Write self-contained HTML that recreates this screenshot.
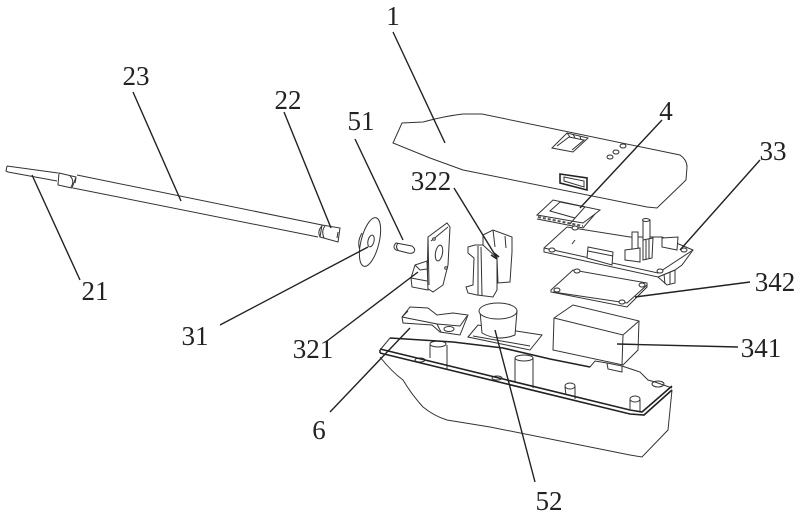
<!DOCTYPE html>
<html><head><meta charset="utf-8"><style>
html,body{margin:0;padding:0;background:#fff}
svg{display:block}
.d{filter:blur(.35px)}
.p path,.p ellipse,.p polyline,.p polygon,.p line{fill:#fff;stroke:#333;stroke-width:1}
.p path.o{fill:none}
.p .b{stroke-width:1.6;stroke:#222}
.l line{stroke:#222;stroke-width:1.4}
text{font-family:"Liberation Serif",serif;font-size:27px;fill:#222;text-anchor:middle}
</style></head><body>
<svg width="800" height="518" viewBox="0 0 800 518" xmlns="http://www.w3.org/2000/svg">
<g class="d">
<g class="p">
<!-- shaft -->
<path class="o" d="M7,166 L58,173 M8,172 L57,181 M7,166 L6,171 L8,172"/>
<path d="M59,173 L76,177 L72,188 L58,185 Z"/>
<path class="o" d="M70,176 Q75,181 71,187 M76,178 L75,183"/>
<path class="o" d="M77,175 L322,225 M73,188 L318,237"/>
<path d="M322,225 L340,228 L338,242 L320,237 Z"/>
<path class="o" d="M322,226 Q317,231 320,237 M325,226 Q321,231 324,238 M338,232 L337,238"/>
<!-- disc -->
<path class="o" d="M362,233 Q356,243 361,252 L364,246"/>
<ellipse cx="370" cy="242" rx="9" ry="25" transform="rotate(14 370 242)"/>
<ellipse cx="371" cy="241" rx="3" ry="6" transform="rotate(14 371 241)"/>
<!-- pin -->
<path d="M396,243 L412,246 Q416,249 414,252 Q412,254 408,253 L396,250 Q392,247 396,243 Z"/>
<path class="o" d="M398,243 Q395,247 398,250"/>
<!-- cover 1 -->
<path d="M393,143 L402,123 L423,122 Q445,116 463,114 L482,114 L680,155 Q687,160 687,167 L686,180 L657,208 L647,207 L463,170 L430,158 Z"/>
<path d="M552,148 L567,133 L588,138 L573,152 Z"/>
<path class="o" d="M557,146 L569,137 L584,140 L572,150 M567,133 L570,137 M573,134 L575,138 M580,136 L581,140"/>
<path class="b" d="M560,174 L587,178 L587,190 L560,183 Z"/>
<path class="o" d="M564,177 L584,181 L584,187 L564,181 Z"/>
<ellipse cx="623" cy="146" rx="3" ry="2"/><ellipse cx="616" cy="152" rx="3" ry="2"/><ellipse cx="610" cy="157" rx="3" ry="2"/>
<!-- part 4 -->
<path d="M537,215 L553,200 L600,210 L595,214 L583,223 Z"/>
<path class="o" d="M537,219 L583,228 L595,214"/>
<path class="o" style="stroke:#555;stroke-width:2;stroke-dasharray:3 2" d="M538,217 L583,226"/>
<path class="o" d="M550,211 L560,202 L585,207 L575,218 Z M575,218 L570,224"/>
<!-- pcb 33 -->
<path d="M675,270 L675,283 L667,285 L658,277 Z"/>
<path class="o" d="M670,272 L670,284 M664,274 L665,284"/>
<path d="M544,248 L567,227 L630,237 L662,237 L693,250 L682,265 L675,270 L658,277 L544,252 Z"/>
<path class="o" d="M544,248 L658,273 L693,250"/>
<path d="M588,247 L613,252 L612,265 L587,258 Z"/>
<path class="o" d="M588,251 L613,256"/>
<path d="M632,232 L638,232 L638,250 L632,250 Z"/>
<path d="M643,220 L650,220 L650,240 L643,240 Z"/>
<ellipse cx="646" cy="220" rx="3.5" ry="1.5"/>
<path d="M625,250 L640,248 L640,262 L625,260 Z"/>
<path d="M643,240 L653,238 L652,258 L643,260 Z"/>
<path class="o" d="M646,240 L646,260 M649,239 L649,259"/>
<path d="M662,238 L678,237 L677,250 L662,247 Z"/>
<path class="o" d="M572,244 L575,240"/>
<ellipse cx="552" cy="250" rx="3" ry="2"/><ellipse cx="684" cy="250" rx="3" ry="2"/><ellipse cx="660" cy="271" rx="3" ry="2"/><ellipse cx="575" cy="228" rx="3" ry="2"/>
<!-- plate 342 -->
<path d="M551,290 L573,270 L647,283 L647,287 L627,307 L551,292 Z"/>
<path class="o" d="M553,292 L627,303 L647,285"/>
<ellipse cx="577" cy="271" rx="3" ry="2"/><ellipse cx="642" cy="285" rx="3" ry="2"/><ellipse cx="557" cy="290" rx="3" ry="2"/><ellipse cx="622" cy="302" rx="3" ry="2"/>
<!-- part 321 -->
<path d="M428,237 L447,223 L450,227 L448,265 L443,285 L433,292 L427,288 Z"/>
<path class="o" d="M431,241 L448,227 M428,237 L429,285"/>
<ellipse cx="439" cy="253" rx="3.5" ry="8" transform="rotate(10 439 253)"/>
<ellipse cx="434" cy="239" rx="1.3" ry="1.3"/><ellipse cx="446" cy="268" rx="1.3" ry="1.3"/>
<path d="M415,265 L427,261 L428,290 L412,287 L411,278 Z"/>
<path class="o" d="M415,265 L420,270 L427,269 M411,278 L427,281"/>
<!-- part 322 -->
<path d="M483,235 L493,230 L512,237 L512,252 L510,282 L498,283 L497,258 L483,250 Z"/>
<path class="o" d="M493,230 L495,247 M505,236 L506,248"/>
<path d="M475,245 L483,245 L497,258 L497,290 L493,297 L477,295 L468,293 L466,287 L473,285 L474,258 L468,253 L468,247 Z"/>
<path class="o" d="M478,246 L478,295 M481,247 L482,296"/>
<path class="o b" d="M491,255 L497,259 M494,253 L499,257"/>
<!-- part 6 -->
<path d="M402,317 L410,307 L428,308 L437,315 L453,313 L468,315 L460,335 L440,332 L432,325 L403,323 Z"/>
<path class="o" d="M402,317 L437,324 L441,332 M408,311 L402,317 M437,324 L460,326 L467,316"/>
<ellipse cx="449" cy="329" rx="5" ry="2.5"/>
<!-- housing lower -->
<path class="o" d="M380,357 Q392,372 403,380 Q412,395 423,407 Q434,416 447,420 L490,427 L630,455 L642,457 L668,430 L672,390"/>
<path class="o" d="M652,398 L655,382"/>
<!-- base 52 + cylinder -->
<path d="M468,337 L478,325 L542,335 L530,350 Z"/>
<path class="o" d="M473,336 L530,346"/>
<path d="M480,311 L482,333 Q498,342 515,335 L517,311 Z"/>
<ellipse cx="498" cy="311" rx="19" ry="8"/>
<!-- box 341 -->
<path d="M554,318 L573,305 L639,321 L638,350 L623,365 L553,350 Z"/>
<path class="o" d="M554,318 L623,335 L639,321 M623,335 L622,365"/>
<!-- posts -->
<path style="stroke:none" d="M390,339 L460,343 L540,358 L590,368 L597,362 L640,373 L672,388 L642,414 L380,351 Z"/>
<path class="o" d="M430,345 L430,358 M447,345 L447,370 M515,358 L515,382 M533,358 L533,388 M565,387 L566,395 M575,387 L575,399 M630,400 L630,409 M640,400 L640,411"/>
<ellipse cx="438" cy="344" rx="8" ry="3"/><ellipse cx="524" cy="358" rx="9" ry="3"/><ellipse cx="570" cy="386" rx="5" ry="3"/><ellipse cx="635" cy="399" rx="5" ry="3"/><ellipse cx="658" cy="384" rx="6" ry="3"/><ellipse cx="420" cy="360" rx="5" ry="2"/><ellipse cx="497" cy="378" rx="5" ry="2"/>
<!-- housing rim -->
<path class="o" d="M380,350 L390,338 L453,342 L503,348 L550,359 L590,367 L595,361 L607,363 L622,366 L640,372 L648,380 L655,382 L672,388"/>
<path class="o" d="M607,363 L608,369 L622,372 L622,366"/>
<path class="o b" d="M380,349 L630,410 L642,412 L672,386"/>
<path class="o b" d="M380,353 L630,414 L644,415 L672,390 M380,350 L380,353"/>
<path class="o b" d="M390,338 L453,342 L503,348 L550,359 L590,367"/>
</g>
<g class="l">
<line x1="393" y1="32" x2="445" y2="143"/>
<line x1="133" y1="92" x2="181" y2="201"/>
<line x1="284" y1="112" x2="331" y2="228"/>
<line x1="32" y1="175" x2="80" y2="280"/>
<line x1="355" y1="139" x2="403" y2="240"/>
<line x1="220" y1="325" x2="368" y2="247"/>
<line x1="327" y1="341" x2="418" y2="272"/>
<line x1="454" y1="188" x2="497" y2="258"/>
<line x1="662" y1="120" x2="580" y2="208"/>
<line x1="760" y1="160" x2="680" y2="250"/>
<line x1="750" y1="282" x2="635" y2="297"/>
<line x1="738" y1="347" x2="617" y2="344"/>
<line x1="495" y1="330" x2="535" y2="482"/>
<line x1="330" y1="412" x2="410" y2="328"/>
</g>
<text x="393" y="25">1</text>
<text x="136" y="85">23</text>
<text x="288" y="109">22</text>
<text x="361" y="130">51</text>
<text x="431" y="190">322</text>
<text x="666" y="120">4</text>
<text x="773" y="160">33</text>
<text x="775" y="291">342</text>
<text x="761" y="357">341</text>
<text x="313" y="358">321</text>
<text x="195" y="345">31</text>
<text x="95" y="300">21</text>
<text x="319" y="439">6</text>
<text x="549" y="510">52</text>
</g>
</svg>
</body></html>
